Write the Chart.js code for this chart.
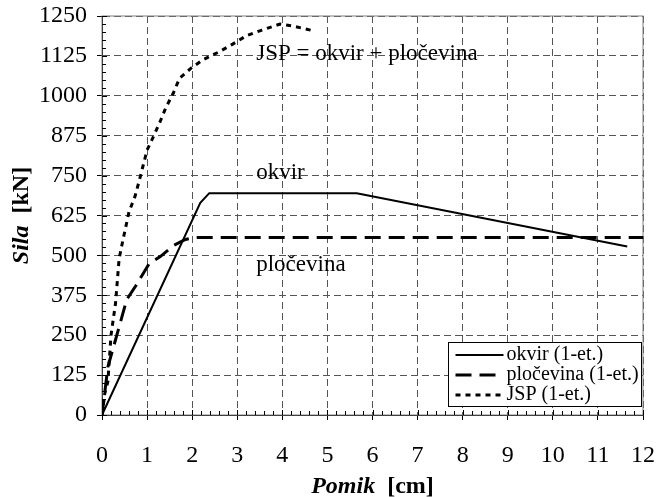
<!DOCTYPE html>
<html lang="hr">
<head>
    <meta charset="UTF-8">
    <title>Sila - pomik</title>
    <script src="https://cdn.jsdelivr.net/npm/chart.js"></script>
    <style>
        body {
            margin: 0;
            background: #fff;
        }
        #chart {
            display: block;
        }
    </style>
</head>
<body>
    <canvas id="chart" width="657" height="497"></canvas>

    <script>
        // okvir (1-et.)
        const okvirX = [0, 2.18, 2.38, 5.65, 11.65];
        const okvirY = [0, 665, 695, 695, 528];

        // pločevina (1-et.)
        const plocX = [0, 0.13, 0.55, 0.75, 1.05, 1.3, 1.6, 1.85, 2.05, 12];
        const plocY = [0, 150, 362, 405, 475, 497, 532, 550, 556, 556];

        // JSP (1-et.)
        const jspX = [0, 0.06, 0.13, 0.2, 0.3, 0.38, 0.46, 0.6, 0.73, 0.83, 1.0, 1.14, 1.28, 1.41, 1.58, 1.72, 1.97, 2.23, 2.6, 2.9, 3.2, 3.55, 3.95, 4.25, 4.65];
        const jspY = [0, 66, 104, 250, 350, 490, 545, 637, 684, 736, 830, 872, 916, 961, 1008, 1055, 1086, 1112, 1138, 1162, 1188, 1206, 1225, 1218, 1205];

        const xTicks = [0, 1, 2, 3, 4, 5, 6, 7, 8, 9, 10, 11, 12];
        const yTicks = [0, 125, 250, 375, 500, 625, 750, 875, 1000, 1125, 1250];

        const seriesNames = ['okvir (1-et.)', 'pločevina (1-et.)', 'JSP (1-et.)'];

        // text labels on the plot: [text, x, y] in data units (left edge, middle)
        const notes = [
            ['JSP = okvir + pločevina', 3.42, 1131],
            ['okvir', 3.42, 759],
            ['pločevina', 3.42, 471]
        ];

        const serif = '"Liberation Serif", "Times New Roman", serif';

        const pts = (xs, ys) => xs.map((x, i) => ({ x: x, y: ys[i] }));

        // draws "bold italic part" + "bold part" centred on (0,0)
        function mixedTitle(ctx, a, b, size) {
            ctx.font = 'italic bold ' + size + 'px ' + serif;
            const w1 = ctx.measureText(a).width;
            ctx.font = 'bold ' + size + 'px ' + serif;
            const w2 = ctx.measureText(b).width;
            const sx = -(w1 + w2) / 2;
            ctx.textAlign = 'left';
            ctx.textBaseline = 'middle';
            ctx.font = 'italic bold ' + size + 'px ' + serif;
            ctx.fillText(a, sx, 0);
            ctx.font = 'bold ' + size + 'px ' + serif;
            ctx.fillText(b, sx + w1, 0);
        }

        // minor ticks, frame, axis titles, notes, legend
        const extras = {
            id: 'extras',
            beforeDatasetsDraw(chart) {
                const ctx = chart.ctx;
                const a = chart.chartArea;
                const xs = chart.scales.x, ys = chart.scales.y;
                ctx.save();
                // frame (top / right)
                ctx.strokeStyle = '#808080';
                ctx.lineWidth = 1;
                ctx.strokeRect(a.left, a.top, a.right - a.left, a.bottom - a.top);

                ctx.strokeStyle = '#000';
                ctx.beginPath();
                // minor ticks on y (every 25)
                for (let v = 0; v <= 1250; v += 25) {
                    const py = Math.round(ys.getPixelForValue(v)) + 0.5;
                    const len = (v % 125 === 0) ? 5 : 4;
                    ctx.moveTo(a.left, py);
                    ctx.lineTo(a.left + len, py);
                }
                // minor ticks on x (every 0.2)
                for (let i = 0; i <= 60; i++) {
                    const px = Math.round(xs.getPixelForValue(i * 0.2)) + 0.5;
                    const len = (i % 5 === 0) ? 5 : 4;
                    ctx.moveTo(px, a.bottom);
                    ctx.lineTo(px, a.bottom - len);
                }
                ctx.stroke();

                // notes
                ctx.fillStyle = '#000';
                ctx.font = '23px ' + serif;
                ctx.textBaseline = 'middle';
                ctx.textAlign = 'left';
                notes.forEach(n => {
                    ctx.fillText(n[0], xs.getPixelForValue(n[1]), ys.getPixelForValue(n[2]));
                });
                ctx.restore();
            },
            afterDraw(chart) {
                const ctx = chart.ctx;
                const a = chart.chartArea;

                // axis titles
                ctx.save();
                ctx.fillStyle = '#000';
                ctx.translate((a.left + a.right) / 2, 487);
                mixedTitle(ctx, 'Pomik', '  [cm]', 24);
                ctx.restore();

                ctx.save();
                ctx.fillStyle = '#000';
                ctx.translate(22, (a.top + a.bottom) / 2);
                ctx.rotate(-Math.PI / 2);
                mixedTitle(ctx, 'Sila', '  [kN]', 24);
                ctx.restore();

                // legend box
                ctx.save();
                const lx = 448.5, ly = 342.5, lw = 193, lh = 64;
                ctx.fillStyle = '#fff';
                ctx.fillRect(lx, ly, lw, lh);
                ctx.strokeStyle = '#000';
                ctx.lineWidth = 1;
                ctx.strokeRect(lx, ly, lw, lh);
                ctx.font = '20px ' + serif;
                ctx.textAlign = 'left';
                ctx.textBaseline = 'middle';
                chart.data.datasets.forEach((ds, i) => {
                    const yy = ly + 12.5 + i * 20;
                    ctx.strokeStyle = ds.borderColor;
                    ctx.lineWidth = ds.borderWidth;
                    ctx.setLineDash(ds.borderDash || []);
                    ctx.beginPath();
                    ctx.moveTo(lx + 7, yy);
                    ctx.lineTo(lx + 55, yy);
                    ctx.stroke();
                    ctx.setLineDash([]);
                    ctx.fillStyle = '#000';
                    ctx.fillText(ds.label, lx + 58, yy);
                });
                ctx.restore();
            }
        };

        new Chart(document.getElementById('chart'), {
            type: 'line',
            data: {
                datasets: [
                    {
                        label: seriesNames[0],
                        data: pts(okvirX, okvirY),
                        borderColor: '#000',
                        borderWidth: 2,
                        pointRadius: 0
                    },
                    {
                        label: seriesNames[1],
                        data: pts(plocX, plocY),
                        borderColor: '#000',
                        borderWidth: 3,
                        borderDash: [16, 8],
                        pointRadius: 0
                    },
                    {
                        label: seriesNames[2],
                        data: pts(jspX, jspY),
                        borderColor: '#000',
                        borderWidth: 3,
                        borderDash: [5, 5],
                        pointRadius: 0
                    }
                ]
            },
            options: {
                responsive: false,
                animation: false,
                layout: { padding: { top: 16, right: 14, bottom: 0, left: 0 } },
                plugins: {
                    legend: { display: false },
                    tooltip: { enabled: false }
                },
                scales: {
                    x: {
                        type: 'linear',
                        min: 0,
                        max: 12,
                        afterFit: s => {
                            s.height = 82;
                            s.paddingLeft = 0;
                            s.paddingRight = 0;
                        },
                        afterBuildTicks: s => { s.ticks = xTicks.map(v => ({ value: v })); },
                        ticks: {
                            color: '#000',
                            font: { family: serif, size: 24 },
                            padding: 21,
                            maxRotation: 0,
                            callback: v => String(v)
                        },
                        grid: {
                            color: '#555',
                            tickColor: '#000',
                            tickLength: 5,
                            lineWidth: 1
                        },
                        border: { display: true, color: '#000', width: 1, dash: [7, 4] }
                    },
                    y: {
                        type: 'linear',
                        min: 0,
                        max: 1250,
                        afterFit: s => {
                            s.width = 102;
                            s.paddingTop = 0;
                            s.paddingBottom = 0;
                        },
                        afterBuildTicks: s => { s.ticks = yTicks.map(v => ({ value: v })); },
                        ticks: {
                            color: '#000',
                            font: { family: serif, size: 24 },
                            padding: 10,
                            callback: v => String(v)
                        },
                        grid: {
                            color: '#555',
                            tickColor: '#000',
                            tickLength: 5,
                            lineWidth: 1
                        },
                        border: { display: true, color: '#000', width: 1, dash: [7, 4] }
                    }
                }
            },
            plugins: [extras]
        });
    </script>
</body>
</html>
